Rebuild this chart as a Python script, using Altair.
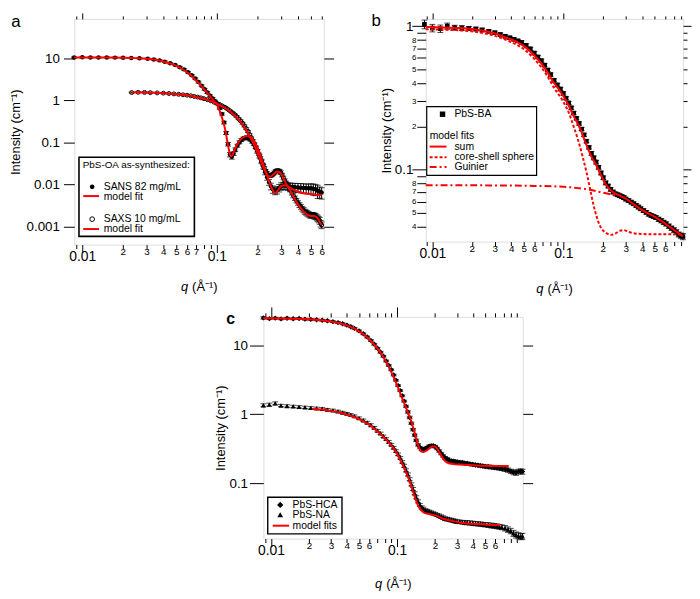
import altair as alt
import pandas as pd

FONT = "Liberation Sans"
RED = "#ff0000"

# ---------------- panel a : PbS-OA ----------------
A_SANS_Q = [0.0087, 0.0100, 0.0115, 0.0132, 0.0152, 0.0175, 0.0201, 0.0231, 0.0266, 0.0306,
            0.034, 0.0375, 0.041, 0.045, 0.049, 0.053, 0.057, 0.061, 0.065, 0.069,
            0.073, 0.077, 0.081, 0.085, 0.089, 0.093, 0.097, 0.101, 0.105, 0.109,
            0.113, 0.117, 0.121, 0.125, 0.129, 0.133, 0.137, 0.142, 0.147, 0.152,
            0.157, 0.162, 0.167, 0.172, 0.177, 0.182, 0.188, 0.194, 0.2, 0.207,
            0.214, 0.221, 0.228, 0.236, 0.244, 0.252, 0.26, 0.27, 0.28, 0.29,
            0.3, 0.31, 0.32, 0.335, 0.35, 0.365, 0.38, 0.4, 0.42, 0.44,
            0.46, 0.48, 0.5, 0.52, 0.54, 0.56, 0.58, 0.6]
A_SANS_I = [10.6, 10.7, 10.6, 10.6, 10.6, 10.5, 10.4, 10.3, 10.1, 9.9,
            9.5, 9.0, 8.4, 7.7, 7.0, 6.2, 5.5, 4.7, 4.0, 3.35,
            2.75, 2.25, 1.85, 1.55, 1.3, 1.12, 0.97, 0.84, 0.66, 0.48,
            0.30, 0.17, 0.092, 0.052, 0.046, 0.055, 0.068, 0.085, 0.102, 0.115,
            0.125, 0.13, 0.13, 0.126, 0.118, 0.106, 0.092, 0.077, 0.062, 0.048,
            0.036, 0.027, 0.020, 0.015, 0.0115, 0.0092, 0.0078, 0.0072, 0.0075, 0.0084,
            0.0092, 0.0095, 0.0096, 0.0093, 0.0090, 0.0088, 0.0087, 0.0086, 0.0085, 0.0084,
            0.0083, 0.0082, 0.0082, 0.0080, 0.0078, 0.0072, 0.0068, 0.0065]
A_SANS_E = [0.03, 0.03, 0.03, 0.03, 0.03, 0.03, 0.03, 0.03, 0.03, 0.03,
            0.04, 0.04, 0.04, 0.04, 0.04, 0.04, 0.04, 0.04, 0.04, 0.04,
            0.05, 0.05, 0.05, 0.05, 0.05, 0.05, 0.05, 0.05, 0.06, 0.06,
            0.07, 0.08, 0.1, 0.12, 0.12, 0.1, 0.1, 0.08, 0.08, 0.08,
            0.08, 0.08, 0.08, 0.08, 0.08, 0.08, 0.08, 0.08, 0.1, 0.1,
            0.12, 0.12, 0.14, 0.15, 0.16, 0.18, 0.2, 0.2, 0.2, 0.2,
            0.2, 0.2, 0.2, 0.22, 0.22, 0.22, 0.24, 0.24, 0.25, 0.25,
            0.25, 0.26, 0.28, 0.3, 0.3, 0.35, 0.3, 0.3]

A_SAXS_Q = [0.0233, 0.026, 0.029, 0.032, 0.036, 0.04, 0.044, 0.048, 0.052, 0.056,
            0.06, 0.064, 0.068, 0.072, 0.076, 0.08, 0.085, 0.09, 0.095, 0.1,
            0.105, 0.11, 0.115, 0.12, 0.125, 0.13, 0.135, 0.14, 0.145, 0.15,
            0.155, 0.16, 0.165, 0.17, 0.175, 0.18, 0.185, 0.19, 0.195, 0.2,
            0.205, 0.21, 0.215, 0.22, 0.225, 0.23, 0.235, 0.24, 0.245, 0.25,
            0.256, 0.262, 0.268, 0.274, 0.28, 0.286, 0.292, 0.298, 0.305, 0.312,
            0.319, 0.326, 0.333, 0.34, 0.35, 0.36, 0.37, 0.38, 0.39, 0.4,
            0.41, 0.42, 0.43, 0.44, 0.45, 0.46, 0.47, 0.48, 0.49, 0.5,
            0.51, 0.52, 0.53, 0.54, 0.55, 0.56, 0.57, 0.58, 0.59, 0.6]
A_SAXS_I = [1.55, 1.57, 1.56, 1.54, 1.52, 1.50, 1.47, 1.44, 1.41, 1.37,
            1.34, 1.30, 1.25, 1.21, 1.16, 1.11, 1.05, 0.99, 0.92, 0.86,
            0.80, 0.74, 0.69, 0.63, 0.57, 0.52, 0.47, 0.42, 0.37, 0.33,
            0.29, 0.25, 0.215, 0.185, 0.155, 0.13, 0.11, 0.092, 0.077, 0.064,
            0.053, 0.044, 0.036, 0.030, 0.025, 0.021, 0.019, 0.017, 0.0165, 0.0165,
            0.017, 0.018, 0.0195, 0.021, 0.0215, 0.0215, 0.021, 0.0195, 0.017, 0.0145,
            0.0125, 0.011, 0.0097, 0.0088, 0.0075, 0.0064, 0.0055, 0.0048, 0.0042, 0.0037,
            0.0033, 0.0030, 0.0027, 0.0025, 0.0023, 0.0022, 0.0021, 0.0020, 0.0019, 0.0019,
            0.0019, 0.0019, 0.0018, 0.0018, 0.0017, 0.0016, 0.0015, 0.0014, 0.0012, 0.0011]
A_SAXS_E = [0.03, 0.03, 0.03, 0.03, 0.03, 0.03, 0.03, 0.03, 0.03, 0.03,
            0.03, 0.03, 0.03, 0.03, 0.03, 0.03, 0.03, 0.03, 0.03, 0.04,
            0.04, 0.04, 0.04, 0.04, 0.04, 0.04, 0.04, 0.05, 0.05, 0.05,
            0.05, 0.05, 0.05, 0.05, 0.05, 0.05, 0.06, 0.06, 0.06, 0.06,
            0.06, 0.07, 0.07, 0.07, 0.08, 0.08, 0.08, 0.09, 0.09, 0.09,
            0.09, 0.09, 0.09, 0.09, 0.09, 0.09, 0.09, 0.1, 0.1, 0.1,
            0.1, 0.1, 0.1, 0.1, 0.1, 0.11, 0.11, 0.12, 0.12, 0.12,
            0.13, 0.13, 0.13, 0.14, 0.14, 0.14, 0.15, 0.15, 0.15, 0.15,
            0.15, 0.15, 0.16, 0.16, 0.16, 0.17, 0.17, 0.18, 0.18, 0.18]

A_FIT_SANS_Q = [0.0087, 0.012, 0.016, 0.02, 0.025, 0.03, 0.035, 0.04, 0.045, 0.05,
                0.055, 0.06, 0.065, 0.07, 0.075, 0.08, 0.085, 0.09, 0.095, 0.1,
                0.105, 0.11, 0.115, 0.12, 0.1235, 0.127, 0.131, 0.136, 0.142, 0.15,
                0.158, 0.166, 0.174, 0.182, 0.19, 0.2, 0.21, 0.22, 0.23, 0.24,
                0.25, 0.26, 0.27, 0.28, 0.29, 0.3, 0.32, 0.34, 0.37, 0.4,
                0.45, 0.5, 0.55, 0.6]
A_FIT_SANS_I = [10.6, 10.6, 10.5, 10.4, 10.2, 9.9, 9.3, 8.5, 7.6, 6.7,
                5.7, 4.7, 3.8, 3.0, 2.4, 1.9, 1.5, 1.2, 0.98, 0.80,
                0.56, 0.36, 0.21, 0.10, 0.062, 0.047, 0.052, 0.07, 0.092, 0.118,
                0.136, 0.144, 0.140, 0.125, 0.104, 0.076, 0.050, 0.032, 0.021, 0.014,
                0.0098, 0.0074, 0.0063, 0.0068, 0.0082, 0.0093, 0.0097, 0.0090, 0.0077, 0.0068,
                0.0062, 0.0060, 0.0058, 0.0057]
A_FIT_SAXS_Q = [0.0233, 0.03, 0.04, 0.05, 0.06, 0.07, 0.08, 0.09, 0.1, 0.11,
                0.12, 0.13, 0.14, 0.15, 0.16, 0.17, 0.18, 0.19, 0.2, 0.21,
                0.22, 0.23, 0.24, 0.25, 0.26, 0.27, 0.28, 0.29, 0.3, 0.32,
                0.34, 0.36, 0.38, 0.4, 0.43, 0.46, 0.5, 0.53, 0.56, 0.58, 0.6]
A_FIT_SAXS_I = [1.58, 1.56, 1.50, 1.42, 1.33, 1.22, 1.10, 0.97, 0.84, 0.72,
                0.61, 0.50, 0.40, 0.31, 0.23, 0.17, 0.12, 0.085, 0.058, 0.039,
                0.027, 0.020, 0.016, 0.0155, 0.017, 0.019, 0.0205, 0.020, 0.018, 0.012,
                0.0085, 0.0062, 0.0045, 0.0034, 0.0025, 0.0020, 0.0018, 0.0018, 0.0016, 0.0013, 0.0011]

# ---------------- panel b : PbS-BA ----------------
B_Q = [0.0087, 0.0100, 0.0115, 0.0130, 0.0148, 0.0168, 0.019, 0.0215, 0.024, 0.027,
       0.030, 0.033, 0.036, 0.039, 0.042, 0.045, 0.048, 0.052, 0.056, 0.060,
       0.064, 0.068, 0.072, 0.076, 0.080, 0.085, 0.090, 0.095, 0.100, 0.105,
       0.110, 0.115, 0.120, 0.126, 0.132, 0.138, 0.144, 0.150, 0.157, 0.164,
       0.171, 0.178, 0.186, 0.194, 0.202, 0.211, 0.22, 0.23, 0.24, 0.25,
       0.26, 0.27, 0.28, 0.29, 0.30, 0.315, 0.33, 0.345, 0.36, 0.375,
       0.39, 0.41, 0.43, 0.45, 0.47, 0.49, 0.51, 0.535, 0.56, 0.585,
       0.61, 0.64, 0.67, 0.70, 0.73, 0.76, 0.79, 0.82]
B_I = [1.03, 0.97, 0.96, 1.0, 0.975, 0.97, 0.965, 0.955, 0.94, 0.92,
       0.90, 0.875, 0.85, 0.83, 0.81, 0.79, 0.77, 0.735, 0.695, 0.65,
       0.61, 0.575, 0.535, 0.495, 0.46, 0.42, 0.39, 0.365, 0.34, 0.315,
       0.292, 0.27, 0.248, 0.228, 0.21, 0.192, 0.175, 0.158, 0.143, 0.13,
       0.121, 0.113, 0.104, 0.095, 0.088, 0.081, 0.077, 0.073, 0.070, 0.068,
       0.067, 0.066, 0.065, 0.064, 0.0625, 0.061, 0.0595, 0.058, 0.0565, 0.055,
       0.0535, 0.052, 0.0505, 0.049, 0.048, 0.0472, 0.0465, 0.0452, 0.0442, 0.043,
       0.042, 0.0405, 0.0392, 0.038, 0.0368, 0.0355, 0.0347, 0.0343]
B_E = [0.07, 0.06, 0.06, 0.05, 0.04, 0.04, 0.03, 0.03, 0.03, 0.025,
       0.025, 0.025, 0.025, 0.025, 0.025, 0.025, 0.025, 0.025, 0.025, 0.025,
       0.025, 0.025, 0.025, 0.025, 0.025, 0.025, 0.025, 0.025, 0.025, 0.025,
       0.025, 0.025, 0.025, 0.025, 0.025, 0.025, 0.025, 0.025, 0.025, 0.03,
       0.03, 0.03, 0.03, 0.03, 0.03, 0.03, 0.03, 0.03, 0.03, 0.03,
       0.03, 0.03, 0.03, 0.03, 0.03, 0.03, 0.03, 0.03, 0.03, 0.03,
       0.03, 0.03, 0.03, 0.03, 0.03, 0.03, 0.03, 0.035, 0.035, 0.035,
       0.035, 0.035, 0.035, 0.04, 0.04, 0.04, 0.045, 0.05]
B_SUM_Q = [0.0089, 0.012, 0.016, 0.02, 0.025, 0.03, 0.038, 0.045, 0.0507, 0.058,
           0.0676, 0.076, 0.085, 0.093, 0.1, 0.11, 0.12, 0.135, 0.151, 0.165,
           0.179, 0.195, 0.213, 0.239, 0.27, 0.3, 0.34, 0.38, 0.43, 0.5,
           0.57, 0.65, 0.72, 0.78, 0.822]
B_SUM_I = [0.985, 0.98, 0.97, 0.955, 0.925, 0.89, 0.822, 0.77, 0.72, 0.645,
           0.553, 0.475, 0.402, 0.36, 0.326, 0.28, 0.237, 0.192, 0.147, 0.122,
           0.107, 0.091, 0.078, 0.070, 0.066, 0.063, 0.058, 0.054, 0.0505, 0.047,
           0.0435, 0.040, 0.0375, 0.0355, 0.0345]
B_CS_Q = [0.0089, 0.012, 0.016, 0.02, 0.025, 0.03, 0.038, 0.045, 0.0507, 0.058,
          0.0676, 0.076, 0.085, 0.093, 0.1, 0.11, 0.12, 0.13, 0.14, 0.15,
          0.16, 0.17, 0.18, 0.19, 0.2, 0.215, 0.232, 0.25, 0.27, 0.29,
          0.31, 0.34, 0.4, 0.5, 0.65, 0.822]
B_CS_I = [0.95, 0.945, 0.935, 0.92, 0.89, 0.855, 0.79, 0.735, 0.685, 0.61,
          0.52, 0.445, 0.372, 0.33, 0.298, 0.25, 0.2, 0.16, 0.125, 0.097,
          0.074, 0.057, 0.047, 0.041, 0.038, 0.036, 0.0352, 0.036, 0.0375, 0.038,
          0.0372, 0.0362, 0.0357, 0.0355, 0.0355, 0.0355]
B_GU_Q = [0.0089, 0.03, 0.06, 0.1, 0.13, 0.16, 0.19, 0.22, 0.25]
B_GU_I = [0.078, 0.0778, 0.0772, 0.0762, 0.0745, 0.0725, 0.070, 0.068, 0.0665]

# ---------------- panel c : PbS-HCA / PbS-NA ----------------
C_Q = [0.0087, 0.0097, 0.0108, 0.012, 0.0134, 0.015, 0.0167, 0.0186, 0.0207, 0.023,
       0.0255, 0.028, 0.031, 0.034, 0.037, 0.04, 0.043, 0.046, 0.05, 0.054,
       0.058, 0.062, 0.066, 0.07, 0.074, 0.078, 0.082, 0.086, 0.09, 0.094,
       0.098, 0.102, 0.106, 0.11, 0.114, 0.118, 0.122, 0.126, 0.13, 0.134,
       0.138, 0.142, 0.147, 0.152, 0.157, 0.162, 0.168, 0.174, 0.18, 0.187,
       0.194, 0.201, 0.208, 0.216, 0.224, 0.232, 0.24, 0.25, 0.26, 0.27,
       0.28, 0.29, 0.30, 0.315, 0.33, 0.345, 0.36, 0.38, 0.40, 0.42,
       0.44, 0.46, 0.48, 0.50, 0.53, 0.56, 0.59, 0.62, 0.65, 0.68,
       0.72, 0.76, 0.80, 0.84, 0.88, 0.92, 0.96, 0.99]
C_HCA_I = [24.8, 24.2, 24.6, 24.0, 24.5, 24.1, 24.3, 23.8, 23.6, 23.3,
           22.9, 22.5, 21.9, 21.2, 20.4, 19.5, 18.5, 17.5, 16.1, 14.6,
           13.1, 11.7, 10.3, 9.0, 7.9, 6.9, 5.9, 5.1, 4.4, 3.7,
           3.1, 2.6, 2.2, 1.85, 1.55, 1.3, 1.08, 0.9, 0.74, 0.6,
           0.5, 0.42, 0.36, 0.33, 0.31, 0.31, 0.32, 0.33, 0.345, 0.35,
           0.35, 0.34, 0.32, 0.295, 0.27, 0.25, 0.235, 0.225, 0.215, 0.21,
           0.21, 0.205, 0.205, 0.2, 0.2, 0.195, 0.195, 0.19, 0.188, 0.185,
           0.183, 0.18, 0.178, 0.176, 0.174, 0.172, 0.17, 0.168, 0.166, 0.163,
           0.16, 0.156, 0.15, 0.145, 0.143, 0.148, 0.15, 0.148]
C_HCA_E = [0.04, 0.03, 0.03, 0.03, 0.03, 0.03, 0.03, 0.03, 0.03, 0.03,
           0.03, 0.03, 0.03, 0.03, 0.03, 0.03, 0.03, 0.03, 0.03, 0.03,
           0.03, 0.03, 0.03, 0.03, 0.03, 0.03, 0.03, 0.03, 0.03, 0.03,
           0.03, 0.03, 0.03, 0.03, 0.03, 0.04, 0.04, 0.04, 0.04, 0.04,
           0.04, 0.04, 0.04, 0.04, 0.04, 0.04, 0.04, 0.04, 0.04, 0.04,
           0.04, 0.04, 0.04, 0.04, 0.04, 0.04, 0.04, 0.05, 0.05, 0.05,
           0.05, 0.05, 0.05, 0.05, 0.05, 0.05, 0.05, 0.05, 0.05, 0.05,
           0.05, 0.05, 0.05, 0.05, 0.06, 0.06, 0.06, 0.06, 0.06, 0.06,
           0.07, 0.07, 0.07, 0.08, 0.08, 0.08, 0.08, 0.08]
C_NA_I = [1.35, 1.38, 1.44, 1.34, 1.32, 1.3, 1.28, 1.26, 1.24, 1.22,
          1.2, 1.17, 1.14, 1.1, 1.06, 1.02, 0.98, 0.94, 0.88, 0.82,
          0.76, 0.7, 0.64, 0.58, 0.53, 0.48, 0.44, 0.4, 0.365, 0.33,
          0.295, 0.265, 0.235, 0.205, 0.18, 0.155, 0.135, 0.115, 0.097, 0.083,
          0.072, 0.063, 0.055, 0.049, 0.045, 0.043, 0.041, 0.04, 0.039, 0.038,
          0.037, 0.036, 0.035, 0.034, 0.033, 0.032, 0.031, 0.0305, 0.03, 0.0295,
          0.029, 0.0285, 0.028, 0.0278, 0.0275, 0.0272, 0.027, 0.0268, 0.0265, 0.0262,
          0.026, 0.0258, 0.0255, 0.0252, 0.025, 0.0246, 0.0243, 0.024, 0.0236, 0.0232,
          0.0225, 0.0215, 0.0205, 0.019, 0.018, 0.0175, 0.017, 0.0172]
C_NA_E = [0.05, 0.05, 0.05, 0.04, 0.04, 0.04, 0.04, 0.04, 0.04, 0.04,
          0.04, 0.04, 0.04, 0.04, 0.04, 0.04, 0.04, 0.04, 0.04, 0.04,
          0.04, 0.04, 0.04, 0.04, 0.04, 0.04, 0.04, 0.04, 0.04, 0.04,
          0.04, 0.04, 0.04, 0.04, 0.05, 0.05, 0.05, 0.05, 0.05, 0.05,
          0.05, 0.05, 0.05, 0.05, 0.05, 0.05, 0.05, 0.05, 0.05, 0.05,
          0.05, 0.05, 0.05, 0.06, 0.06, 0.06, 0.06, 0.06, 0.06, 0.06,
          0.06, 0.06, 0.06, 0.06, 0.06, 0.06, 0.07, 0.07, 0.07, 0.07,
          0.07, 0.07, 0.07, 0.07, 0.08, 0.08, 0.08, 0.08, 0.08, 0.08,
          0.09, 0.09, 0.09, 0.1, 0.1, 0.1, 0.1, 0.1]
C_HCA_FIT_Q = [0.0087, 0.012, 0.016, 0.02, 0.025, 0.03, 0.035, 0.04, 0.045, 0.05,
               0.055, 0.06, 0.065, 0.07, 0.075, 0.08, 0.085, 0.09, 0.095, 0.1,
               0.105, 0.11, 0.115, 0.12, 0.125, 0.13, 0.135, 0.14, 0.145, 0.15,
               0.155, 0.162, 0.17, 0.18, 0.19, 0.198, 0.205, 0.215, 0.225, 0.235,
               0.25, 0.28, 0.32, 0.4, 0.5, 0.6, 0.77]
C_HCA_FIT_I = [24.5, 24.4, 24.1, 23.7, 23.0, 22.0, 20.8, 19.3, 17.6, 15.8,
               14.0, 12.2, 10.5, 8.9, 7.5, 6.2, 5.1, 4.1, 3.3, 2.65,
               2.1, 1.7, 1.4, 1.15, 0.95, 0.78, 0.62, 0.49, 0.39, 0.32,
               0.29, 0.285, 0.295, 0.32, 0.34, 0.345, 0.33, 0.29, 0.25, 0.22,
               0.20, 0.19, 0.187, 0.183, 0.18, 0.179, 0.179]
C_NA_FIT_Q = [0.0212, 0.025, 0.03, 0.035, 0.039, 0.045, 0.05, 0.0558, 0.062, 0.071,
              0.08, 0.09, 0.1, 0.108, 0.115, 0.122, 0.129, 0.136, 0.146, 0.155,
              0.165, 0.18, 0.195, 0.21, 0.23, 0.266, 0.32, 0.4, 0.49, 0.66]
C_NA_FIT_I = [1.19, 1.17, 1.12, 1.06, 1.0, 0.92, 0.85, 0.764, 0.68, 0.55,
              0.45, 0.354, 0.27, 0.205, 0.16, 0.125, 0.095, 0.07, 0.049, 0.041,
              0.0375, 0.036, 0.035, 0.0336, 0.031, 0.0291, 0.027, 0.026, 0.0255, 0.025]

# ---------------- tick values ----------------
X_MAJOR = [0.01, 0.1]
A_X_MINOR = [0.009, 0.02, 0.03, 0.04, 0.05, 0.06, 0.07, 0.08, 0.09, 0.2, 0.3, 0.4, 0.5, 0.6]
B_X_MINOR = [0.009, 0.02, 0.03, 0.04, 0.05, 0.06, 0.07, 0.08, 0.09, 0.2, 0.3, 0.4, 0.5, 0.6, 0.7, 0.8]
C_X_MINOR = [0.009, 0.02, 0.03, 0.04, 0.05, 0.06, 0.07, 0.08, 0.09, 0.2, 0.3, 0.4, 0.5, 0.6, 0.7, 0.8, 0.9]
A_Y_MAJOR = [0.001, 0.01, 0.1, 1, 10]
B_Y_MAJOR = [0.1, 1]
B_Y_MINOR = [0.04, 0.05, 0.06, 0.07, 0.08, 0.09, 0.2, 0.3, 0.4, 0.5, 0.6, 0.7, 0.8, 0.9]
C_Y_MAJOR = [0.1, 1, 10]

ONE = pd.DataFrame({"k": [0]})


def err_df(q, I, e):
    n = min(len(q), len(I), len(e))
    return pd.DataFrame({"q": q[:n], "I": I[:n],
                         "lo": [I[i] * (1 - e[i]) for i in range(n)],
                         "hi": [I[i] * (1 + e[i]) for i in range(n)]})


def line_df(q, I):
    n = min(len(q), len(I))
    return pd.DataFrame({"q": q[:n], "I": I[:n]})


def digit_expr(maxd):
    d = "round(datum.value / pow(10, floor(log(datum.value) / LN10 + 1e-9)))"
    return f"{d} <= {maxd} ? '' + {d} : ''"


MAJOR_EXPR = "format(datum.value, '~g')"


def ax(orient, values, tick, labels=False, size=14, expr=None, title=None, tpad=4, lpad=2):
    kw = dict(orient=orient, values=values, tickSize=tick, tickWidth=1, tickColor="black",
              domain=False, grid=False, labels=labels, labelFont=FONT, labelFontSize=size,
              labelColor="black", labelPadding=lpad, labelOverlap=False,
              titleFont=FONT, titleFontSize=13, titleFontWeight="normal", titleColor="black",
              titlePadding=tpad, title=title)
    if expr:
        kw["labelExpr"] = expr
    return alt.Axis(**kw)


def series(df, xs, ys, shape, filled, size, axes, cap=6):
    g = axes.get
    rule = alt.Chart(df).mark_rule(color="black", strokeWidth=1).encode(
        x=alt.X("q:Q", scale=xs, axis=g("rx")),
        y=alt.Y("lo:Q", scale=ys, axis=g("ry")), y2=alt.Y2("hi:Q"))
    hi = alt.Chart(df).mark_tick(color="black", orient="horizontal", size=cap, thickness=1).encode(
        x=alt.X("q:Q", scale=xs, axis=g("hx")), y=alt.Y("hi:Q", scale=ys, axis=g("hy")))
    lo = alt.Chart(df).mark_tick(color="black", orient="horizontal", size=cap, thickness=1).encode(
        x=alt.X("q:Q", scale=xs, axis=g("lx")), y=alt.Y("lo:Q", scale=ys, axis=g("ly")))
    pts = alt.Chart(df).mark_point(shape=shape, filled=filled, size=size, color="black",
                                   strokeWidth=1, opacity=1).encode(
        x=alt.X("q:Q", scale=xs, axis=g("px")), y=alt.Y("I:Q", scale=ys, axis=g("py")))
    return [rule, hi, lo, pts]


def fit(df, xs, ys, dash=None):
    kw = dict(color=RED, strokeWidth=2, interpolate="monotone")
    if dash:
        kw["strokeDash"] = dash
    return alt.Chart(df).mark_line(**kw).encode(
        x=alt.X("q:Q", scale=xs, axis=None), y=alt.Y("I:Q", scale=ys, axis=None))


def text(s, x, y, size=10.5, align="left", style="normal", weight="normal"):
    return alt.Chart(ONE).mark_text(text=s, font=FONT, fontSize=size, align=align,
                                    baseline="middle", color="black", fontStyle=style,
                                    fontWeight=weight).encode(x=alt.value(x), y=alt.value(y))


def box(x1, x2, y1, y2, sw=1.2):
    return alt.Chart(ONE).mark_rect(fill="white", stroke="black", strokeWidth=sw).encode(
        x=alt.value(x1), x2=alt.value(x2), y=alt.value(y1), y2=alt.value(y2))


def hline(x1, x2, y, dash=None):
    kw = dict(color=RED, strokeWidth=2)
    if dash:
        kw["strokeDash"] = dash
    return alt.Chart(ONE).mark_rule(**kw).encode(x=alt.value(x1), x2=alt.value(x2), y=alt.value(y))


def marker(x, y, shape, filled, size):
    return alt.Chart(ONE).mark_point(shape=shape, filled=filled, size=size, color="black",
                                     strokeWidth=1, opacity=1).encode(x=alt.value(x), y=alt.value(y))


def qtitle(cx, y):
    return [text("q", cx - 11, y, size=13, align="right", style="italic"),
            text("(Å⁻¹)", cx - 7, y, size=13, align="left")]


def bottom_axes(minor, maxd):
    return (ax("bottom", X_MAJOR, 8, True, 14, MAJOR_EXPR, lpad=-3),
            ax("bottom", minor, 4, True, 10, digit_expr(maxd), lpad=-2))


YT = "Intensity (cm⁻¹)"

# ---------------- panel a ----------------
AW, AH = 252, 228
axs = alt.Scale(type="log", domain=[0.00873, 0.622], nice=False)
ays = alt.Scale(type="log", domain=[0.000377, 87.3], nice=False)
a_bx, a_bm = bottom_axes(A_X_MINOR, 7)
a_layers = []
a_layers += series(err_df(A_SANS_Q, A_SANS_I, A_SANS_E), axs, ays, "circle", True, 20, {
    "rx": a_bx,
    "ry": ax("left", A_Y_MAJOR, 11, True, 13.5, MAJOR_EXPR, title=YT, tpad=4, lpad=4),
    "hx": a_bm,
    "hy": ax("right", A_Y_MAJOR, 10),
    "lx": ax("top", X_MAJOR, 6),
    "px": ax("top", A_X_MINOR, 3),
})
a_layers += series(err_df(A_SAXS_Q, A_SAXS_I, A_SAXS_E), axs, ays, "circle", False, 16, {})
a_layers += [fit(line_df(A_FIT_SANS_Q, A_FIT_SANS_I), axs, ays),
             fit(line_df(A_FIT_SAXS_Q, A_FIT_SAXS_I), axs, ays)]
a_layers += [box(4.7, 121.3, 139.7, 219.7, 1.6),
             text("PbS-OA as-synthesized:", 8.5, 147.5, size=10),
             marker(18, 169.7, "circle", True, 22), text("SANS 82 mg/mL", 29.7, 169.7),
             hline(9, 25, 179), text("model fit", 29.7, 179.5),
             marker(18, 202.3, "circle", False, 22), text("SAXS 10 mg/mL", 29.7, 202.3),
             hline(9, 25, 212.3), text("model fit", 29.7, 212.5),
             text("a", -59, 3, size=17, align="center")]
a_layers += qtitle(AW / 2, AH + 43)
panel_a = alt.layer(*a_layers).resolve_axis(x="independent", y="independent").properties(width=AW, height=AH)

# ---------------- panel b ----------------
BW, BH = 260, 225
bxs = alt.Scale(type="log", domain=[0.0089, 0.822], nice=False)
bys = alt.Scale(type="log", domain=[0.0316, 1.123], nice=False)
b_bx, b_bm = bottom_axes(B_X_MINOR, 6)
b_layers = []
b_layers += series(err_df(B_Q, B_I, B_E), bxs, bys, "square", True, 22, {
    "rx": b_bx,
    "ry": ax("left", B_Y_MAJOR, 14, True, 13.5, MAJOR_EXPR, title=YT, tpad=1, lpad=-1),
    "hx": b_bm,
    "hy": ax("left", B_Y_MINOR, 9, True, 8, digit_expr(8), lpad=1),
    "lx": ax("top", X_MAJOR, 6),
    "ly": ax("right", B_Y_MAJOR, 8),
    "px": ax("top", B_X_MINOR, 3),
    "py": ax("right", B_Y_MINOR, 4),
})
b_layers += [fit(line_df(B_GU_Q, B_GU_I), bxs, bys, [7, 3, 2, 3]),
             fit(line_df(B_CS_Q, B_CS_I), bxs, bys, [3, 2]),
             fit(line_df(B_SUM_Q, B_SUM_I), bxs, bys)]
b_layers += [box(1, 112, 88.7, 158, 1.2),
             marker(17, 96.3, "square", True, 30), text("PbS-BA", 29, 96.3),
             text("model fits", 4, 118),
             hline(4, 21, 129), text("sum", 29, 129),
             hline(4, 21, 139.7, [3, 2]), text("core-shell sphere", 29, 139.7),
             hline(4, 21, 149.7, [7, 3, 2, 3]), text("Guinier", 29, 149.7),
             text("b", -50, 2, size=17, align="center")]
b_layers += qtitle(BW / 2, BH + 48)
panel_b = alt.layer(*b_layers).resolve_axis(x="independent", y="independent").properties(width=BW, height=BH)

# ---------------- panel c ----------------
CW, CH = 262, 224
cxs = alt.Scale(type="log", domain=[0.0087, 0.995], nice=False)
cys = alt.Scale(type="log", domain=[0.0159, 25.7], nice=False)
c_bx, c_bm = bottom_axes(C_X_MINOR, 6)
c_layers = []
c_layers += series(err_df(C_Q, C_HCA_I, C_HCA_E), cxs, cys, "diamond", True, 30, {
    "rx": c_bx,
    "ry": ax("left", C_Y_MAJOR, 14, True, 13.5, MAJOR_EXPR, title=YT, tpad=2, lpad=2),
    "hx": c_bm,
    "hy": ax("right", C_Y_MAJOR, 10),
    "lx": ax("top", X_MAJOR, 10),
    "px": ax("top", C_X_MINOR, 4),
})
c_layers += series(err_df(C_Q, C_NA_I, C_NA_E), cxs, cys, "triangle-up", True, 26, {})
c_layers += [fit(line_df(C_HCA_FIT_Q, C_HCA_FIT_I), cxs, cys),
             fit(line_df(C_NA_FIT_Q, C_NA_FIT_I), cxs, cys)]
c_layers += [box(4.4, 79.4, 182.3, 219.3, 1.4),
             marker(17, 190, "diamond", True, 40), text("PbS-HCA", 29.4, 190),
             marker(17, 200, "triangle-up", True, 34), text("PbS-NA", 29.4, 200),
             hline(9.4, 26, 211), text("model fits", 29.4, 211),
             text("c", -33, 2, size=16, align="center", weight="bold")]
c_layers += qtitle(CW / 2, CH + 46)
panel_c = alt.layer(*c_layers).resolve_axis(x="independent", y="independent").properties(width=CW, height=CH)

spacer = alt.Chart(ONE).mark_point(opacity=0).encode(
    x=alt.value(0), y=alt.value(0)
).properties(width=125, height=10,
             view=alt.ViewBackground(stroke="transparent", fill="transparent"))

top = alt.hconcat(panel_a, panel_b, spacing=36)
bottom = alt.hconcat(spacer, panel_c, spacing=14)
chart = alt.vconcat(top, bottom, spacing=9).properties(
    padding={"left": 0, "top": 0, "right": 0, "bottom": 0}
).configure_view(stroke="black", strokeWidth=1, fill="white").configure(background="white")

chart.save("out.html", embed_options={"renderer": "svg", "actions": False})
